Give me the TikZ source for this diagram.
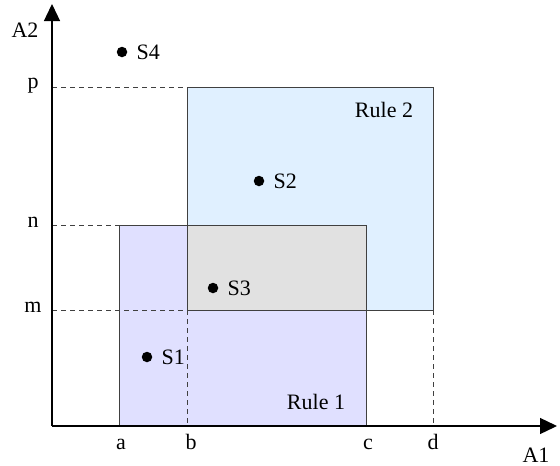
\documentclass[tikz,border=0pt]{standalone}
\usepackage{fontspec}
\setmainfont{Liberation Serif}
\usetikzlibrary{arrows.meta,positioning}
\definecolor{ruleone}{RGB}{224,224,255}
\definecolor{ruletwo}{RGB}{224,240,255}
\definecolor{overlap}{RGB}{225,225,225}
\definecolor{edge}{RGB}{64,64,64}
\begin{document}
\begin{tikzpicture}[x=1pt,y=-1pt,font=\fontsize{22}{26}\selectfont,
  axis/.style={line width=1.3pt,-{Triangle[length=17pt,width=16pt]}},
  guide/.style={edge,line width=0.9pt,dash pattern=on 5pt off 4pt},
  box/.style={draw=edge,line width=1pt},
  dot/.style={circle,fill=black,inner sep=0pt,minimum size=10.5pt},
  lbl/.style={inner sep=1pt},
  tick/.style={anchor=base,inner sep=0pt}]
\useasboundingbox (0,0) rectangle (560,466);
\coordinate (O) at (52,426);
\coordinate (xend) at (557,426);
\coordinate (yend) at (52,4);
\coordinate (r1nw) at (119,225);
\coordinate (r1se) at (366,426);
\coordinate (r2nw) at (187,87);
\coordinate (r2se) at (433,310);
% rule areas
\fill[ruleone] (r1nw) rectangle (r1se);
\fill[ruletwo] (r2nw) rectangle (r2se);
\fill[overlap] (r2nw |- r1nw) rectangle (r1se |- r2se);
\draw[box] (r1nw) rectangle (r1se);
\draw[box] (r2nw) rectangle (r2se);
% guides
\draw[guide] (O |- r1nw) -- (r1nw);
\draw[guide] (O |- r2nw) -- (r2nw);
\draw[guide] (O |- r2se) -- (r2nw |- r2se);
\draw[guide] (r2nw |- r2se) -- (r2nw |- O);
\draw[guide] (r2se) -- (r2se |- O);
% axes
\draw[axis] (O) -- (xend);
\draw[axis] (O) -- (yend);
\node[tick] (A2) at (25,37) {A2};
\node[tick] (A1) at (536,462) {A1};
\node[tick] (tp) at (33,88) {p};
\node[tick] (tn) at (33,227) {n};
\node[tick] (tm) at (33,312) {m};
\node[tick] (ta) at (121,449) {a};
\node[tick] (tb) at (191,449) {b};
\node[tick] (tc) at (368,449) {c};
\node[tick] (td) at (433,449) {d};
% samples
\node[dot] (s4) at (122,52) {};
\node[lbl,right=8pt of s4] (s4l) {S4};
\node[dot] (s2) at (259,181) {};
\node[lbl,right=8pt of s2] (s2l) {S2};
\node[dot] (s3) at (213,288) {};
\node[lbl,right=8pt of s3] (s3l) {S3};
\node[dot] (s1) at (147,357) {};
\node[lbl,right=8pt of s1] (s1l) {S1};
\node[tick] (rule2) at (384,117) {Rule 2};
\node[tick] (rule1) at (316,409) {Rule 1};
\end{tikzpicture}
\end{document}
